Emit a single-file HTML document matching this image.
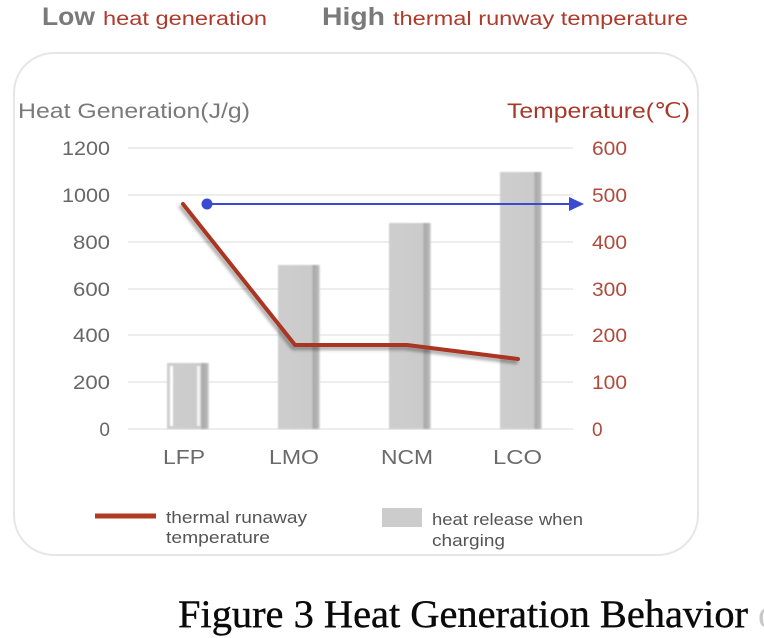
<!DOCTYPE html>
<html>
<head>
<meta charset="utf-8">
<style>
  html,body{margin:0;padding:0;background:#fff;}
  svg{display:block;}
</style>
</head>
<body>
<svg width="764" height="638" viewBox="0 0 764 638" xmlns="http://www.w3.org/2000/svg">
  <defs>
    <filter id="sh" x="-20%" y="-20%" width="140%" height="140%">
      <feGaussianBlur in="SourceAlpha" stdDeviation="1.5"/>
      <feOffset dx="-2" dy="3" result="b"/>
      <feComponentTransfer><feFuncA type="linear" slope="0.35"/></feComponentTransfer>
      <feMerge><feMergeNode/><feMergeNode in="SourceGraphic"/></feMerge>
    </filter>
    <filter id="blur1"><feGaussianBlur stdDeviation="0.8"/></filter>
    <linearGradient id="barg" x1="0" x2="1" y1="0" y2="0">
      <stop offset="0" stop-color="#cdcdcd"/>
      <stop offset="0.80" stop-color="#cbcbcb"/>
      <stop offset="0.84" stop-color="#a9a9a9"/>
      <stop offset="0.95" stop-color="#b5b5b5"/>
      <stop offset="1" stop-color="#e0e0e0"/>
    </linearGradient>
  </defs>

  <!-- header -->
  <text x="42" y="25" font-family="Liberation Sans, sans-serif" font-size="25" font-weight="bold" fill="#7a7a7a" textLength="53" lengthAdjust="spacingAndGlyphs">Low</text>
  <text x="103" y="25" font-family="Liberation Sans, sans-serif" font-size="19" fill="#ae3a2c" textLength="164" lengthAdjust="spacingAndGlyphs">heat generation</text>
  <text x="322" y="25" font-family="Liberation Sans, sans-serif" font-size="25" font-weight="bold" fill="#7a7a7a" textLength="63" lengthAdjust="spacingAndGlyphs">High</text>
  <text x="393" y="25" font-family="Liberation Sans, sans-serif" font-size="19" fill="#ae3a2c" textLength="295" lengthAdjust="spacingAndGlyphs">thermal runway temperature</text>

  <!-- card -->
  <rect x="14" y="53" width="684" height="502" rx="40" ry="40" fill="#fff" stroke="#e6e6e6" stroke-width="2"/>

  <!-- axis titles -->
  <text x="18" y="118" font-family="Liberation Sans, sans-serif" font-size="21" fill="#7a7a7a" textLength="232" lengthAdjust="spacingAndGlyphs">Heat Generation(J/g)</text>
  <text x="507" y="118" font-family="Liberation Sans, sans-serif" font-size="21" fill="#a8382a" textLength="183" lengthAdjust="spacingAndGlyphs">Temperature(℃)</text>

  <!-- gridlines -->
  <g stroke="#e7e7e7" stroke-width="1.5">
    <line x1="128" y1="148" x2="573" y2="148"/>
    <line x1="128" y1="195" x2="573" y2="195"/>
    <line x1="128" y1="242" x2="573" y2="242"/>
    <line x1="128" y1="289" x2="573" y2="289"/>
    <line x1="128" y1="335" x2="573" y2="335"/>
    <line x1="128" y1="382" x2="573" y2="382"/>
    <line x1="128" y1="429" x2="573" y2="429"/>
  </g>

  <!-- left ticks -->
  <g font-family="Liberation Sans, sans-serif" font-size="19" fill="#676767" text-anchor="end" lengthAdjust="spacingAndGlyphs">
    <text x="110" y="155" textLength="48" lengthAdjust="spacingAndGlyphs">1200</text>
    <text x="110" y="202" textLength="48" lengthAdjust="spacingAndGlyphs">1000</text>
    <text x="110" y="249" textLength="37" lengthAdjust="spacingAndGlyphs">800</text>
    <text x="110" y="296" textLength="37" lengthAdjust="spacingAndGlyphs">600</text>
    <text x="110" y="342" textLength="37" lengthAdjust="spacingAndGlyphs">400</text>
    <text x="110" y="389" textLength="37" lengthAdjust="spacingAndGlyphs">200</text>
    <text x="110" y="436">0</text>
  </g>
  <!-- right ticks -->
  <g font-family="Liberation Sans, sans-serif" font-size="19" fill="#b04a3c">
    <text x="592" y="155" textLength="35" lengthAdjust="spacingAndGlyphs">600</text>
    <text x="592" y="202" textLength="35" lengthAdjust="spacingAndGlyphs">500</text>
    <text x="592" y="249" textLength="35" lengthAdjust="spacingAndGlyphs">400</text>
    <text x="592" y="296" textLength="35" lengthAdjust="spacingAndGlyphs">300</text>
    <text x="592" y="342" textLength="35" lengthAdjust="spacingAndGlyphs">200</text>
    <text x="592" y="389" textLength="35" lengthAdjust="spacingAndGlyphs">100</text>
    <text x="592" y="436">0</text>
  </g>

  <!-- bars -->
  <g filter="url(#blur1)">
    <rect x="167" y="363" width="42" height="66" fill="url(#barg)"/>
    <rect x="170" y="366" width="3" height="60" fill="#ffffff"/>
    <rect x="197" y="366" width="3" height="60" fill="#f4f4f4"/>
    <rect x="278" y="265" width="42" height="164" fill="url(#barg)"/>
    <rect x="389" y="223" width="42" height="206" fill="url(#barg)"/>
    <rect x="500" y="172" width="42" height="257" fill="url(#barg)"/>
  </g>

  <!-- line series -->
  <polyline points="183,204 295,345 407,345 518,359" fill="none" stroke="#a93620" stroke-width="4" stroke-linejoin="round" stroke-linecap="round" filter="url(#sh)"/>

  <!-- blue arrow -->
  <line x1="207" y1="204" x2="571" y2="204" stroke="#3b4bd1" stroke-width="2"/>
  <circle cx="207" cy="204" r="5.5" fill="#3b4bd1"/>
  <polygon points="569,197 584,204 569,211" fill="#3b4bd1"/>

  <!-- category labels -->
  <g font-family="Liberation Sans, sans-serif" font-size="20" fill="#6a6a6a">
    <text x="163" y="464" textLength="42" lengthAdjust="spacingAndGlyphs">LFP</text>
    <text x="269" y="464" textLength="50" lengthAdjust="spacingAndGlyphs">LMO</text>
    <text x="381" y="464" textLength="52" lengthAdjust="spacingAndGlyphs">NCM</text>
    <text x="493" y="464" textLength="49" lengthAdjust="spacingAndGlyphs">LCO</text>
  </g>

  <!-- legend -->
  <line x1="95" y1="516" x2="156" y2="516" stroke="#b03a22" stroke-width="5"/>
  <text x="166" y="523" font-family="Liberation Sans, sans-serif" font-size="17" fill="#555" textLength="141" lengthAdjust="spacingAndGlyphs">thermal runaway</text>
  <text x="166" y="543" font-family="Liberation Sans, sans-serif" font-size="17" fill="#555" textLength="104" lengthAdjust="spacingAndGlyphs">temperature</text>
  <rect x="382" y="508" width="40" height="19" fill="#cccccc"/>
  <text x="432" y="525" font-family="Liberation Sans, sans-serif" font-size="17" fill="#555" textLength="151" lengthAdjust="spacingAndGlyphs">heat release when</text>
  <text x="432" y="546" font-family="Liberation Sans, sans-serif" font-size="17" fill="#555" textLength="73" lengthAdjust="spacingAndGlyphs">charging</text>

  <!-- caption -->
  <text x="178" y="627" font-family="Liberation Serif, serif" font-size="39" fill="#0a0a0a" stroke="#0a0a0a" stroke-width="0.4" textLength="570" lengthAdjust="spacingAndGlyphs">Figure 3 Heat Generation Behavior</text>
  <text x="758" y="627" font-family="Liberation Serif, serif" font-size="39" fill="#c8c8c8">o</text>
</svg>
</body>
</html>
